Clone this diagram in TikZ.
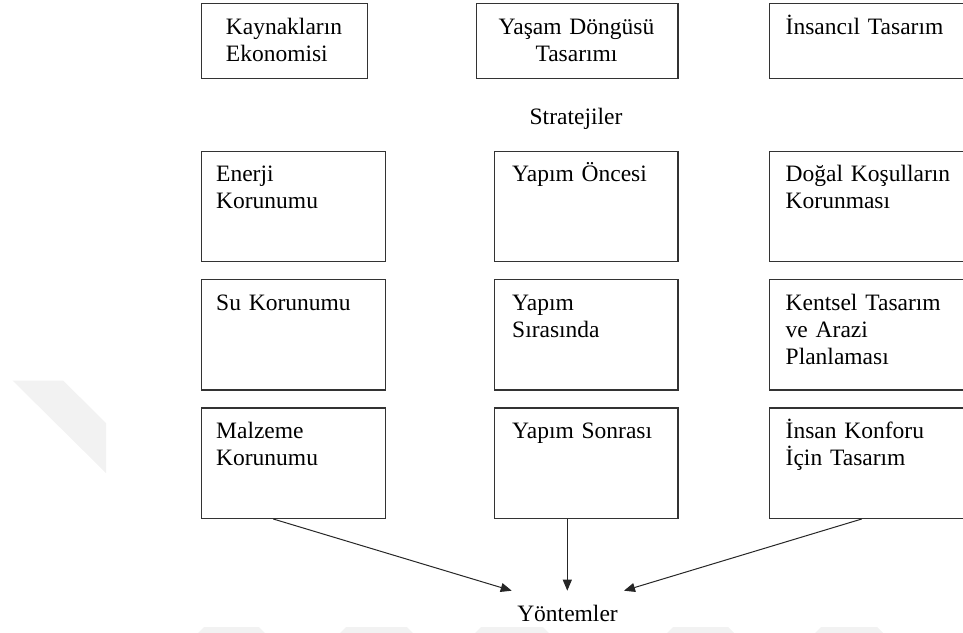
\documentclass[tikz,border=0pt]{standalone}
\usepackage{fontspec}
\setmainfont{Liberation Serif}
\usetikzlibrary{arrows.meta,calc}

\begin{document}
\begin{tikzpicture}[x=1pt,y=-1pt,
  box/.style={draw=black!80, line width=1.3pt, inner sep=0pt, anchor=north west,
              minimum width=#1},
  box/.default=183.3pt,
  txt/.style={inner sep=0pt, anchor=base west, align=left, text width=200pt,
              font=\fontsize{23.5}{27}\selectfont},
  ctxt/.style={inner sep=0pt, anchor=base, align=center, text width=200pt,
               font=\fontsize{23.5}{27}\selectfont},
  link/.style={draw=black!85, line width=1pt, -{Triangle[length=11pt,width=9pt]}},
  wm/.style={fill=black!5, draw=none}
]
\useasboundingbox (0,0) rectangle (963,632);
\clip (0,0) rectangle (963,632);

% faint background marks
\fill[wm] (12.7,380.7) -- (63.3,380.7) -- (106,423) -- (106,473) -- cycle;
\foreach \a/\b in {204/259, 346/407, 481/543, 673/728, 821/877}
  \fill[wm] (\a,627) -- (\b,627) -- (\b+6,633) -- (\a-6,633) -- cycle;

% top row: principles
\node[box=166pt, minimum height=74.7pt] (p1) at (200.7,3) {};
\node[box=201.6pt, minimum height=74.7pt] (p2) at (475.7,3) {};
\node[box=220pt, minimum height=74.7pt] (p3) at (769,3) {};
\node[txt] (p1t) at (225.7,34.3) {Kaynakların\\Ekonomisi};
\node[ctxt] (p2t) at (576.5,34.3) {Yaşam Döngüsü\\Tasarımı};
\node[txt] (p3t) at (785.5,34.3) {İnsancıl Tasarım};

\node[ctxt] (str) at (576,124.3) {Stratejiler};

% strategy grid
\foreach \r/\y in {2/150.7, 3/279, 4/407.3}{
  \node[box=184.3pt, minimum height=110.4pt] (s\r a) at (200.7,\y) {};
  \node[box=183.3pt, minimum height=110.4pt] (s\r b) at (494,\y) {};
  \node[box=220pt, minimum height=110.4pt] (s\r c) at (769,\y) {};
}

\node[txt] (s2at) at (216,181) {Enerji\\Korunumu};
\node[txt] (s2bt) at (512,181) {Yapım Öncesi};
\node[txt] (s2ct) at (785.5,181) {Doğal Koşulların\\Korunması};

\node[txt] (s3at) at (216,310) {Su Korunumu};
\node[txt] (s3bt) at (512,310) {Yapım\\Sırasında};
\node[txt] (s3ct) at (785.5,310) {Kentsel Tasarım\\ve Arazi\\Planlaması};

\node[txt] (s4at) at (216,438.3) {Malzeme\\Korunumu};
\node[txt] (s4bt) at (512,438.3) {Yapım Sonrası};
\node[txt] (s4ct) at (785.5,438.3) {İnsan Konforu\\İçin Tasarım};

\node[ctxt] (yon) at (567.5,621.7) {Yöntemler};

% arrows into the methods label
\coordinate (tipL) at (511.7,590.7);
\coordinate (tipM) at (567.3,590.7);
\coordinate (tipR) at (624,590.7);
\draw[link] ($(s4a.south west)+(72.6,0)$) -- (tipL);
\draw[link] ($(s4b.south west)+(73.3,0)$) -- (tipM);
\draw[link] ($(s4c.south west)+(92.7,0)$) -- (tipR);
\end{tikzpicture}
\end{document}
